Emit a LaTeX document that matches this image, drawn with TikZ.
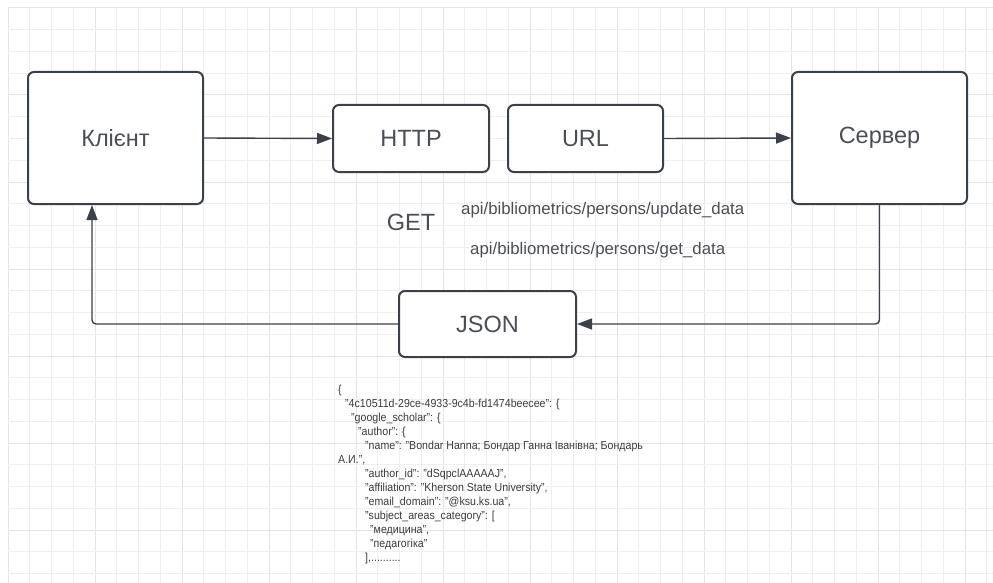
\documentclass[tikz,border=0pt]{standalone}
\usepackage{fontspec}
\setmainfont{Liberation Sans}
\usetikzlibrary{arrows.meta,calc}
\definecolor{gridminor}{HTML}{EFEFEF}
\definecolor{gridmajor}{HTML}{E4E4E4}
\definecolor{boxline}{HTML}{3A414A}
\definecolor{labeltext}{HTML}{4A4F57}
\definecolor{jsontext}{HTML}{3C3C3C}
\newcommand{\jsq}[1]{\scalebox{0.915}[1]{#1}}
\tikzset{
  box/.style={draw=boxline, line width=2pt, rounded corners=6pt, fill=white,
    text=labeltext, font=\fontsize{23.5}{28}\selectfont, inner sep=0pt},
  conn/.style={draw=boxline, line width=1.4pt,
    -{Triangle[length=15pt,width=11pt]}},
  apitext/.style={text=labeltext, font=\fontsize{16.8}{20}\selectfont, inner sep=0pt, anchor=west},
  jsonline/.style={text=jsontext, font=\fontsize{11.6}{14}\selectfont, inner sep=0pt, anchor=base west},
}
\begin{document}
\begin{tikzpicture}[x=1pt,y=-1pt]
\useasboundingbox (0,0) rectangle (993,583);
\fill[white] (0,0) rectangle (993,583);
% grid
\foreach \k in {0,...,45} {
  \pgfmathtruncatemacro{\m}{mod(\k,4)}
  \ifnum\m=0
    \draw[gridmajor, line width=1pt] ({8+21.75*\k},8) -- ({8+21.75*\k},583);
  \else
    \draw[gridminor, line width=1pt] ({8+21.75*\k},8) -- ({8+21.75*\k},583);
  \fi
}
\foreach \k in {0,...,26} {
  \pgfmathtruncatemacro{\m}{mod(\k,4)}
  \ifnum\m=0
    \draw[gridmajor, line width=1pt] (8,{8+21.75*\k}) -- (993,{8+21.75*\k});
  \else
    \draw[gridminor, line width=1pt] (8,{8+21.75*\k}) -- (993,{8+21.75*\k});
  \fi
}
% boxes
\node[box, minimum width=175pt, minimum height=132pt] (klient) at (115.5,138) {Клієнт};
\node[box, minimum width=156pt, minimum height=67pt] (http) at (411,138.5) {HTTP};
\node[box, minimum width=155pt, minimum height=67pt] (url) at (585.5,138.5) {URL};
\node[box, minimum width=175pt, minimum height=132pt] (server) at (879.5,138) {Сервер};
\node[box, minimum width=177pt, minimum height=66pt] (json) at (487.5,324) {JSON};
% connectors
\coordinate (kin) at ([xshift=65pt]klient.south west);
\draw[conn] (klient.east) -- (http.west);
\draw[conn] (url.east) -- (server.west);
\draw[conn, rounded corners=4pt] (server.south) |- (json.east);
\draw[conn, rounded corners=4pt] (json.west) -| (kin);
% labels
\node[text=labeltext, font=\fontsize{23.5}{28}\selectfont, inner sep=0pt] (get) at (411,222) {GET};
\node[apitext] (upd) at (461,210) {api/bibliometrics/persons/update\_data};
\node[apitext] (getd) at (470,250) {api/bibliometrics/persons/get\_data};
% json sample
\node[jsonline] (j1) at (338,393) {\jsq{\{}};
\node[jsonline] (j2) at (345,407) {\jsq{"4c10511d-29ce-4933-9c4b-fd1474beecee": \{}};
\node[jsonline] (j3) at (351,421) {\jsq{"google\_scholar": \{}};
\node[jsonline] (j4) at (358,435) {\jsq{"author": \{}};
\node[jsonline] (j5) at (365,449) {\jsq{"name": "Bondar Hanna; Бондар Ганна Іванівна; Бондарь}};
\node[jsonline] (j6) at (338,463) {\jsq{А.И.",}};
\node[jsonline] (j7) at (365,477) {\jsq{"author\_id": "dSqpclAAAAAJ",}};
\node[jsonline] (j8) at (365,491) {\jsq{"affiliation": "Kherson State University",}};
\node[jsonline] (j9) at (365,505) {\jsq{"email\_domain": "@ksu.ks.ua",}};
\node[jsonline] (j10) at (365,519) {\jsq{"subject\_areas\_category": [}};
\node[jsonline] (j11) at (370,533) {\jsq{"медицина",}};
\node[jsonline] (j12) at (370,547) {\jsq{"педагогіка"}};
\node[jsonline] (j13) at (365,561) {\jsq{],..........}};
\end{tikzpicture}
\end{document}
